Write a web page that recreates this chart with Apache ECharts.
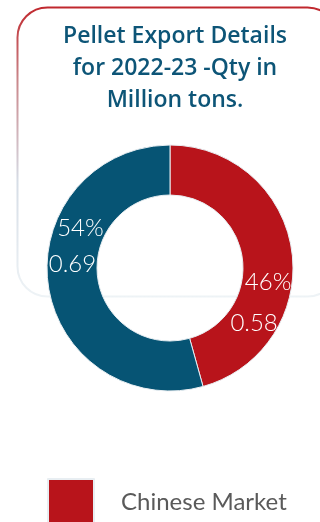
<!DOCTYPE html>
<html>
<head>
<meta charset="utf-8">
<style>
html,body{margin:0;padding:0;background:#fff;}
#chart{width:320px;height:522px;}
</style>
<script src="https://cdn.jsdelivr.net/npm/echarts@6/dist/echarts.min.js"></script>
</head>
<body>
<div id="chart"></div>
<script>
const titleText = 'Pellet Export Details\nfor 2022-23 -Qty in\nMillion tons.';
const categories = ['Chinese Market', 'Other Markets'];
const values = [0.58, 0.69];
const colors = ['#b8141b', '#065474'];

const labelStyles = [
  {offset: [-9, 48.5], lineHeight: 41, shift: 14},
  {offset: [6.5, -35.5], lineHeight: 36, shift: 8}
];

const total = values.reduce((a, b) => a + b, 0);
const chart = echarts.init(document.getElementById('chart'), null, {renderer: 'canvas'});
chart.setOption({
  animation: false,
  graphic: [{
    type: 'rect',
    z: -10,
    shape: {x: 17.5, y: 7.5, width: 320, height: 289, r: 30},
    style: {
      fill: '#fff',
      lineWidth: 2,
      stroke: new echarts.graphic.LinearGradient(0, 0, 0, 1, [
        {offset: 0, color: '#c0272d'},
        {offset: 0.25, color: '#c9868a'},
        {offset: 0.6, color: '#d6dde6'},
        {offset: 1, color: '#eef3f6'}
      ])
    }
  }],
  title: {
    text: titleText,
    left: 170,
    top: 15,
    textAlign: 'center',
    textStyle: {
      fontFamily: 'Open Sans',
      fontWeight: 600,
      fontSize: 23,
      lineHeight: 32,
      color: '#0d5577'
    }
  },
  legend: {
    orient: 'vertical',
    left: 47,
    top: 478,
    height: 400,
    padding: 0,
    itemWidth: 46,
    itemHeight: 46,
    itemGap: 30,
    icon: 'rect',
    data: categories,
    textStyle: {
      fontFamily: 'Lato',
      fontSize: 24,
      color: '#5a5a5a',
      padding: [0, 0, 0, 22]
    }
  },
  series: [{
    type: 'pie',
    center: [170, 268],
    radius: [73, 123],
    startAngle: 90,
    clockwise: true,
    label: {
      show: true,
      position: 'inside',
      color: '#fff',
      fontFamily: 'Lato',
      fontWeight: 300,
      fontSize: 24,
      formatter: p => '{a|' + Math.round(p.value / total * 100) + '%}\n{b|' + p.value.toFixed(2) + '}'
    },
    labelLine: {show: false},
    itemStyle: {borderColor: '#e8eef2', borderWidth: 1},
    data: categories.map((c, i) => {
      const s = labelStyles[i];
      const base = {color: '#fff', fontFamily: 'Lato', fontWeight: 300, fontSize: 24, lineHeight: s.lineHeight};
      return {
        name: c,
        value: values[i],
        itemStyle: {color: colors[i]},
        label: {
          offset: s.offset,
          lineHeight: s.lineHeight,
          rich: {
            a: Object.assign({}, base, {padding: [0, 0, 0, s.shift]}),
            b: Object.assign({}, base, {padding: [0, s.shift, 0, 0]})
          }
        }
      };
    })
  }]
});
</script>
</body>
</html>
